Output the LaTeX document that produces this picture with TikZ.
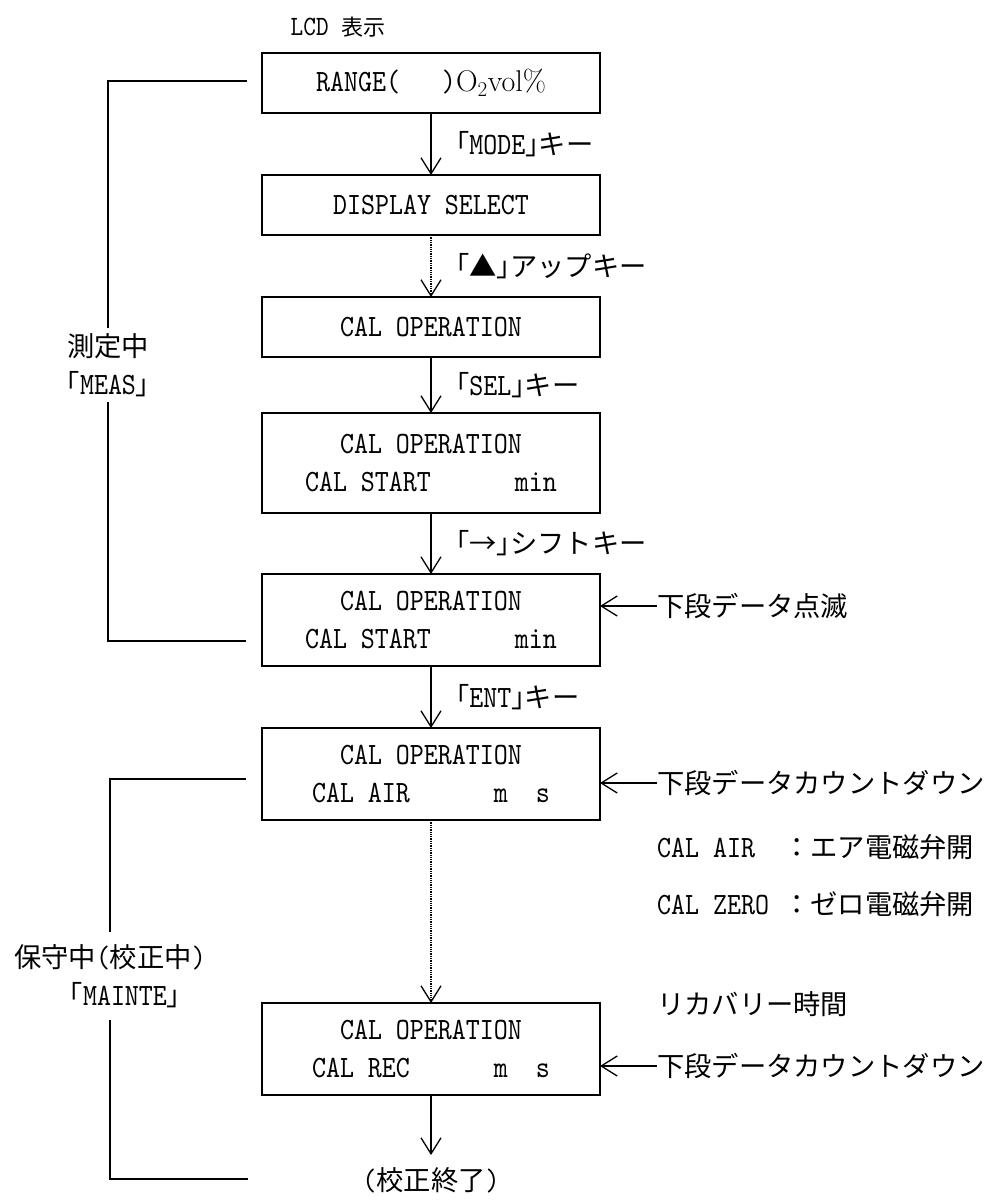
\documentclass[tikz,border=0pt]{standalone}
\usepackage{fontspec}
\usepackage{tikz}
\usetikzlibrary{arrows.meta, positioning, calc}
\newfontfamily\jp{Noto Sans CJK JP}[Scale=0.88]
\newfontfamily\jph{Noto Sans CJK JP}[Scale=0.88, RawFeature=+halt]
\newfontfamily\lcdfont{lmmono10-regular.otf}[FakeStretch=0.86]
\newcommand{\kagi}[1]{{\jph 「}#1{\jph 」}}

\begin{document}
\begin{tikzpicture}[
    x=1pt, y=-1pt,
    font=\lcdfont\fontsize{31}{38}\selectfont,
    node distance=62pt,
    lcdbox/.style={rectangle, draw, line width=1.6pt, outer sep=0pt, minimum width=338pt, minimum height=60pt, align=center, inner sep=0pt},
    lcdbox2/.style={lcdbox, minimum height=92pt},
    arrow/.style={-{Straight Barb[length=16pt, width=20pt]}, line width=1.3pt},
    dotarrow/.style={arrow, densely dotted},
    keytext/.style={right, inner sep=0pt, xshift=24pt},
    note/.style={anchor=west, inner sep=0pt},
    sidetext/.style={align=center, inner sep=5.5pt},
    bracket/.style={line width=1.8pt}
]
\useasboundingbox (0,0) rectangle (996,1203);

\node[font=\lcdfont\fontsize{28}{30}\selectfont] (lcd) at (338,27) {LCD {\jp\fontsize{25}{28}\selectfont 表示}};

\node[lcdbox] (b1) at (431,83) {RANGE(\ \ \ ){\rmfamily\fontsize{30}{36}\selectfont O\textsubscript{2}vol\%}};
\node[lcdbox, below=of b1] (b2) {DISPLAY SELECT};
\node[lcdbox, below=of b2] (b3) {CAL OPERATION};
\node[lcdbox, minimum height=100pt, below=56pt of b3] (b4) {CAL OPERATION\\CAL START\ \ \ \ \ \ min};
\node[lcdbox2, below=61pt of b4] (b5) {CAL OPERATION\\CAL START\ \ \ \ \ \ min};
\node[lcdbox2, below=of b5] (b6) {CAL OPERATION\\CAL AIR\ \ \ \ \ \ m\ \ s};
\node[lcdbox2, below=183pt of b6] (b7) {CAL OPERATION\\CAL REC\ \ \ \ \ \ m\ \ s};
\node[inner sep=0pt, below=72pt of b7] (fin) {({\jp 校正終了})};

\draw[arrow] (b1) -- node[keytext] {\kagi{MODE}{\jp キー}} (b2);
\draw[dotarrow] (b2) -- node[keytext] {{\jph 「}{\jp ▲}{\jph 」}{\jp アップキー}} (b3);
\draw[arrow] (b3) -- node[keytext] {\kagi{SEL}{\jp キー}} (b4);
\draw[arrow] (b4) -- node[keytext] {{\jph 「}{\jp →}{\jph 」}{\jp シフトキー}} (b5);
\draw[arrow] (b5) -- node[keytext] {\kagi{ENT}{\jp キー}} (b6);
\draw[dotarrow] (b6) -- (b7);
\draw[arrow, shorten >=12pt] (b7) -- (fin);

\node[note] (n5) at (657,606) {{\jp 下段データ点滅}};
\node[note] (n6) at (657,783) {{\jp 下段データカウントダウン}};
\node[note] (air) at (657,847) {CAL AIR\ \ {\jp ：エア電磁弁開}};
\node[note] (zero) at (657,904) {CAL ZERO\ {\jp ：ゼロ電磁弁開}};
\node[note] (rec) at (657,1004) {{\jp リカバリー時間}};
\node[note] (n7) at (657,1066) {{\jp 下段データカウントダウン}};

\draw[arrow] (n5.west) -- (n5.west -| b5.east);
\draw[arrow] (n6.west) -- (n6.west -| b6.east);
\draw[arrow] (n7.west) -- (n7.west -| b7.east);

\node[sidetext] (meas) at (108,365) {{\jp 測定中}\\\kagi{MEAS}};
\node[sidetext, inner sep=12.5pt] (mainte) at (110,976) {{\jp 保守中}({\jp 校正中})\\\hspace*{30pt}\kagi{MAINTE}};

\coordinate (m1) at (247,81);
\coordinate (m2) at (246,641);
\coordinate (t1) at (246,779);
\coordinate (t2) at (248,1179);
\draw[bracket] (m1) -| (meas.north);
\draw[bracket] (meas.south) |- (m2);
\draw[bracket] (t1) -| (mainte.north);
\draw[bracket] (mainte.south) |- (t2);

\end{tikzpicture}
\end{document}
